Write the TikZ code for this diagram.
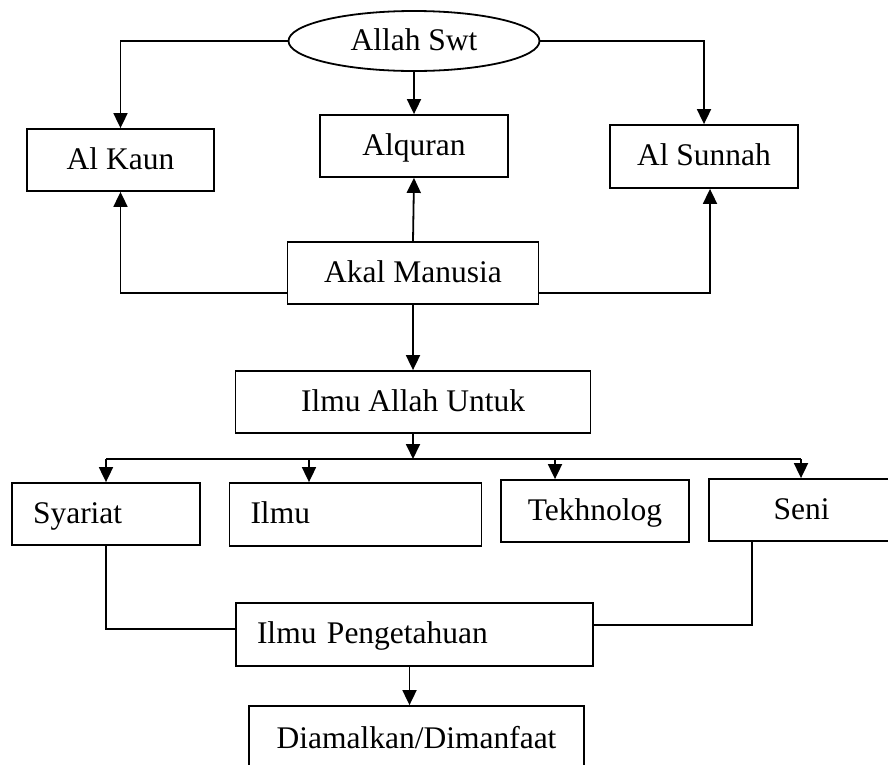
\documentclass[tikz,border=0pt]{standalone}
\usepackage{fontspec}
\setmainfont{Liberation Serif}
\usetikzlibrary{shapes.geometric,arrows.meta}
\begin{document}
\begin{tikzpicture}[x=1pt,y=-1pt,
  base/.style={draw, line width=1.8pt, inner sep=0pt, text height=24pt, text depth=6pt, font=\fontsize{31.5}{34}\selectfont},
  box/.style={base, rectangle},
  leftbox/.style={base, rectangle, align=left},
  conn/.style={line width=1.8pt},
  arr/.style={conn, -{Triangle[length=15pt,width=14pt]}}]
\useasboundingbox (0,0) rectangle (888,764);

\node[base, ellipse, minimum width=251pt, minimum height=60pt] (allah) at (414,41) {Allah Swt};
\node[box, minimum width=187pt, minimum height=62pt] (kaun) at (120.5,160) {Al Kaun};
\node[box, minimum width=188pt, minimum height=62pt] (quran) at (414,146) {Alquran};
\node[box, minimum width=188pt, minimum height=63pt] (sunnah) at (704,156.5) {Al Sunnah};
\node[box, minimum width=251pt, minimum height=62pt] (akal) at (413,273) {Akal Manusia};
\node[box, minimum width=355pt, minimum height=62pt] (untuk) at (413,402) {Ilmu Allah Untuk};

\node[leftbox, text width=146pt, inner xsep=21pt, minimum height=62pt] (syariat) at (106,514) {Syariat};
\node[leftbox, text width=210pt, inner xsep=21pt, minimum height=63pt] (ilmu) at (355.5,514.5) {Ilmu};
\node[box, minimum width=188pt, minimum height=62pt] (tekno) at (595,511) {Tekhnolog};
\node[box, minimum width=185pt, minimum height=62pt] (seni) at (801.5,510) {Seni};
\node[leftbox, text width=315pt, inner xsep=21pt, minimum height=63pt] (penget) at (414.5,634.5) {Ilmu Pengetahuan};
\node[box, minimum width=335pt, minimum height=66pt] (diam) at (416.5,739) {Diamalkan/Dimanfaat};

% from Allah
\draw[arr] (allah.west) -| (kaun.north);
\draw[arr] (allah.south) -- (quran.north);
\draw[arr] (allah.east) -| (sunnah.north);

% from Akal Manusia
\draw[arr] ([yshift=-20pt]akal.west) -| (kaun.south);
\draw[arr] (akal.north) -- (quran.south);
\draw[arr] ([yshift=-20pt]akal.east) -| ([xshift=6pt]sunnah.south);
\draw[arr] (akal.south) -- (untuk.north);

% branch
\coordinate (bar) at (413,459);
\coordinate (b1) at (106,459);
\coordinate (b2) at (309,459);
\coordinate (b3) at (555,459);
\coordinate (b4) at (801,459);
\draw[arr] (untuk.south) -- (bar);
\draw[conn] (b1) -- (b4);
\draw[arr] (b1) -- (b1 |- syariat.north);
\draw[arr] (b2) -- (b2 |- ilmu.north);
\draw[arr] (b3) -- (b3 |- tekno.north);
\draw[arr] (b4) -- (b4 |- seni.north);

% to Ilmu Pengetahuan
\draw[conn] (syariat.south) |- ([yshift=5.5pt]penget.west);
\draw[conn] ([xshift=-49.5pt]seni.south) |- ([yshift=9.5pt]penget.east);
\draw[arr] ([xshift=-5pt]penget.south) -- ([xshift=-5pt]penget.south |- diam.north);
\end{tikzpicture}
\end{document}
